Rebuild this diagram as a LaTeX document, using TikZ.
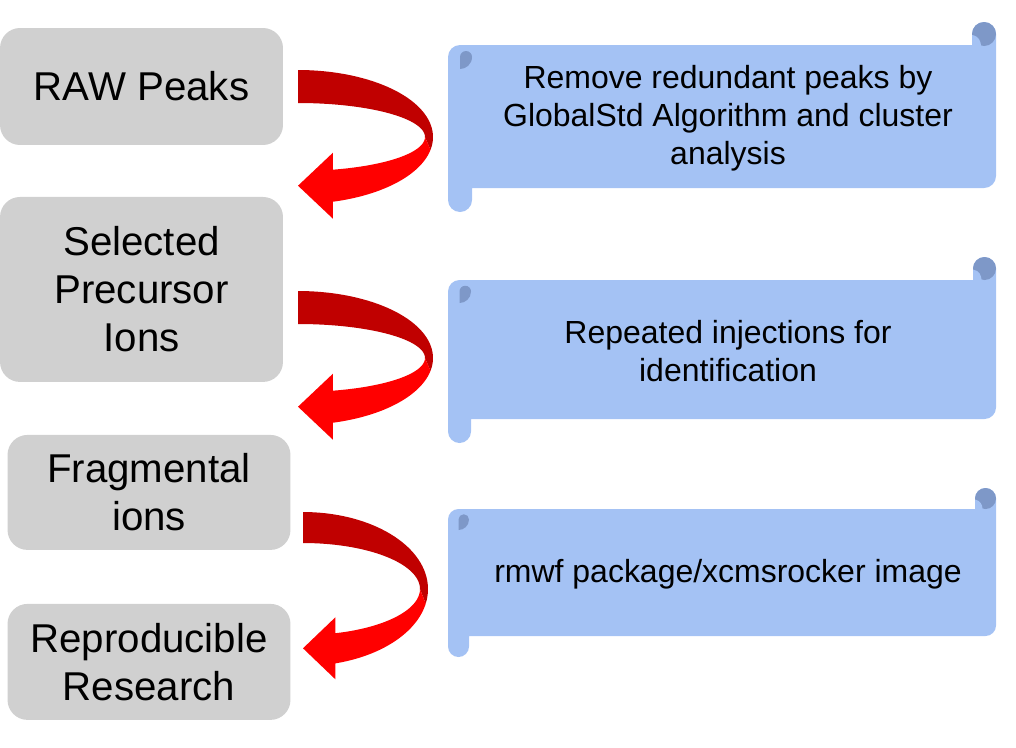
\documentclass[tikz,border=0pt]{standalone}
\usepackage{fontspec}
\setmainfont{Liberation Sans}
\usetikzlibrary{positioning}
\definecolor{boxgray}{RGB}{208,208,208}
\definecolor{scrollblue}{RGB}{164,194,244}
\definecolor{curlblue}{RGB}{126,152,200}
\definecolor{arrowdark}{RGB}{192,0,0}
\definecolor{arrowred}{RGB}{255,0,0}

% scroll: #1 top, #2 body top, #3 body bottom, #4 bottom, #5 roll width
\newcommand{\scrollshape}[5]{%
  \pgfmathsetmacro{\hw}{#5/2}
  \pgfmathsetmacro{\qw}{#5/4}
  \fill[scrollblue] ({448},{#2+\hw}) arc[start angle=180,end angle=270,radius=\hw]
    -- ({996-#5},{#2}) -- ({996-#5},{#1+\hw}) arc[start angle=180,end angle=360,radius=\hw]
    -- ({996},{#3-\hw}) arc[start angle=0,end angle=90,radius=\hw]
    -- ({448+#5},{#3}) -- ({448+#5},{#4-\hw}) arc[start angle=0,end angle=180,radius=\hw] -- cycle;
  % curl top right
  \fill[curlblue] ({996-\hw},{#1+\hw}) circle[radius=\hw];
  \fill[scrollblue] ({996-#5},{#1+\hw+1}) .. controls ({996-\hw-5},{#1+\hw+2}) and ({996-\hw-3},{#1+#5-4}) .. ({996-\hw-3},{#1+#5}) -- ({996-#5},{#1+#5}) -- cycle;
  % curl top left
  \fill[curlblue] ({448+\hw},{#2+#5}) -- ({448+\hw},{#2+\hw}) arc[start angle=180,end angle=360,radius=\qw]
    .. controls ({448+#5},{#2+1.6*\hw}) and ({448+1.5*\hw},{#2+#5}) .. ({448+\hw},{#2+#5}) -- cycle;
}

% turning arrow: #1 origin, #2 x radius, #3 y radius, #4 band width
\newcommand{\turnarrow}[4]{%
  \pgfmathsetmacro{\iry}{#3-#4}
  \pgfmathsetmacro{\hx}{#2*cos(75)}
  \pgfmathsetmacro{\ia}{-acos(\hx/(#2-8))}
  \pgfmathsetmacro{\oy}{#3+#3*sin(75)}
  \pgfmathsetmacro{\iy}{#3-\iry*sin(\ia)}
  \pgfmathsetmacro{\tipy}{(\oy+\iy)/2}
  \begin{scope}[shift={(#1)}]
    \fill[arrowdark] plot[domain=90:-11,samples=40,variable=\t] ({#2*cos(\t)},{#3-#3*sin(\t)})
      -- plot[domain=0:90,samples=40,variable=\t] ({(#2-8)*cos(\t)},{#3-\iry*sin(\t)}) -- cycle;
    \fill[arrowred] plot[domain=-11:-75,samples=40,variable=\t] ({#2*cos(\t)},{#3-#3*sin(\t)})
      -- (\hx,\tipy+#4) -- (0,\tipy) -- (\hx,\tipy-#4)
      -- plot[domain=\ia:0,samples=40,variable=\t] ({(#2-8)*cos(\t)},{#3-\iry*sin(\t)}) -- cycle;
  \end{scope}}

\begin{document}
\begin{tikzpicture}[x=0.02cm,y=-0.02cm]
	\tikzstyle{rect1} = [rectangle,rounded corners=0.4cm,fill=boxgray,minimum width=5.66cm,
	inner sep=0pt,align=center,font=\fontsize{22.9}{27.3}\selectfont]
	\tikzstyle{text1} = [align=center,inner sep=0pt,font=\fontsize{18.2}{21.6}\selectfont]
	\useasboundingbox (0,0) rectangle (1016,747);

	\node (node1) [rect1,minimum height=2.34cm] at (141.5,86.5) {RAW Peaks};
	\node (node2) [rect1,minimum height=3.7cm,below of=node1,node distance=4.06cm] {Selected\\Precursor\\Ions};
	\node (node3) [rect1,minimum height=2.3cm,below of=node2,node distance=4.06cm,xshift=0.15cm] {Fragmental\\ions};
	\node (node4) [rect1,minimum height=2.32cm,below of=node3,node distance=3.39cm] {Reproducible\\Research};

	\scrollshape{22}{45}{188}{212}{24}
	\scrollshape{257}{280}{419}{443}{23}
	\scrollshape{488}{509}{636}{657}{21}
	\node (node5) [text1] at (728,118) {Remove redundant peaks by\\GlobalStd Algorithm and cluster\\analysis};
	\node (node6) [text1] at (728,351) {Repeated injections for\\identification};
	\node (node7) [text1] at (728,574) {rmwf package/xcmsrocker image};

	\coordinate (turn1) at (298,70);
	\coordinate (turn2) at (298,291);
	\coordinate (turn3) at (303,512);
	\turnarrow{turn1}{135}{67}{33}
	\turnarrow{turn2}{135}{67}{33}
	\turnarrow{turn3}{125}{77}{31}
\end{tikzpicture}
\end{document}
